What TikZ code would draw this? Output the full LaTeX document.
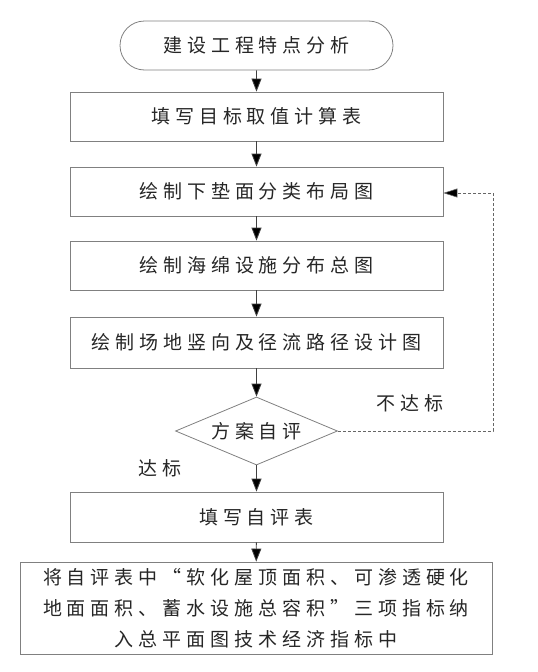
\documentclass[tikz,border=0pt]{standalone}
\usepackage{fontspec}
\setmainfont[LetterSpace=26]{Noto Sans CJK SC}
\usetikzlibrary{shapes.geometric,shapes.misc,arrows.meta}
\begin{document}
\begin{tikzpicture}[x=1pt,y=-1pt,
  every node/.style={font=\fontsize{19}{31}\selectfont, text=black!85, inner sep=0pt},
  stepbox/.style={draw=black!50, line width=0.8pt, minimum width=373pt, minimum height=49pt},
  termbox/.style={draw=black!50, line width=0.8pt, rounded rectangle, minimum width=273pt, minimum height=49pt},
  decbox/.style={draw=black!50, line width=0.8pt, diamond, aspect=2.38, minimum width=162pt, minimum height=68pt},
  conn/.style={draw=black!75, line width=0.8pt, -{Triangle[length=13pt,width=10pt,fill=black]}},
  dconn/.style={draw=black!60, line width=0.6pt, dash pattern=on 3pt off 2pt, -{Triangle[length=14pt,width=9pt,fill=black]}}
]
\useasboundingbox (0,0) rectangle (538,672);
\node[termbox] (t) at (256.5,45.5) {建设工程特点分析};
\node[stepbox] (b2) at (256.5,116.5) {填写目标取值计算表};
\node[stepbox] (b3) at (256.5,191.5) {绘制下垫面分类布局图};
\node[stepbox] (b4) at (256.5,265.5) {绘制海绵设施分布总图};
\node[stepbox, minimum height=51pt] (b5) at (256.5,342.5) {绘制场地竖向及径流路径设计图};
\node[decbox] (d) at (256.5,431) {方案自评};
\node[stepbox, minimum height=50pt] (b6) at (256.5,517) {填写自评表};
\node[stepbox, minimum width=472pt, minimum height=92pt, align=center] (b7) at (256,608)
  {将自评表中“软化屋顶面积、可渗透硬化\\地面面积、蓄水设施总容积”三项指标纳\\入总平面图技术经济指标中};
\node (l1) at (410,403) {不达标};
\node (l2) at (160,468) {达标};
\coordinate (c1) at (493,431);
\coordinate (c2) at (493,193);
\draw[conn] (t) -- (b2);
\draw[conn] (b2) -- (b3);
\draw[conn] (b3) -- (b4);
\draw[conn] (b4) -- (b5);
\draw[conn] (b5) -- (d);
\draw[conn] (d) -- (b6);
\draw[conn] (b6) -- (b7);
\draw[dconn] (d.east) -- (c1) -- (c2) -- (b3.east |- c2);
\end{tikzpicture}
\end{document}
